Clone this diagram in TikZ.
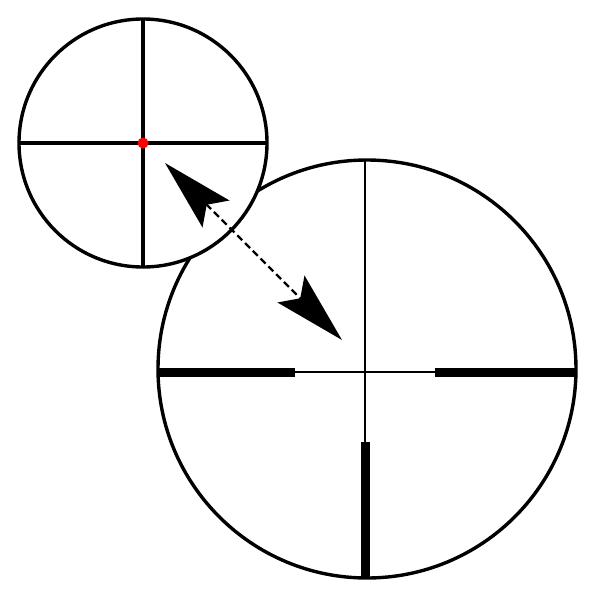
\documentclass[tikz,border=0pt]{standalone}
\usetikzlibrary{arrows.meta}
\begin{document}
\begin{tikzpicture}[x=1pt,y=-1pt,
  ring/.style={draw=black,line width=3.4pt},
  thinhair/.style={draw=black,line width=1.5pt},
  thickbar/.style={fill=black,draw=none},
  smallhair/.style={draw=black,line width=4pt},
  pointer/.style={draw=black,line width=2.2pt,dash pattern=on 7pt off 4pt,
    {Stealth[length=72pt,width=38pt,inset=13pt]}-{Stealth[length=72pt,width=38pt,inset=13pt]}}]
\useasboundingbox[fill=white] (0,0) rectangle (600,600);
% large reticle
\coordinate (C) at (367,369);
\node[circle,minimum size=419pt,inner sep=0pt,fill=white] (big) at (C) {};
\draw[thinhair] (365,160) -- (365,578);
\draw[thinhair] (158,372) -- (577,372);
\fill[thickbar] (158,368) rectangle (295,376.5);
\fill[thickbar] (435,368) rectangle (577,376.5);
\fill[thickbar] (360.5,442) rectangle (369.5,577);
\draw[ring] (C) circle (209);
% small reticle
\coordinate (S) at (143,143);
\node[circle,minimum size=248pt,inner sep=0pt,fill=white] (small) at (S) {};
\draw[smallhair] (19,143) -- (267,143);
\draw[smallhair] (143,19) -- (143,267);
\draw[ring] (S) circle (124);
\fill[red] (S) circle (5.5);
% arrow
\coordinate (a) at (165,163);
\coordinate (b) at (342,340);
\draw[pointer] (a) -- (b);
\end{tikzpicture}
\end{document}
